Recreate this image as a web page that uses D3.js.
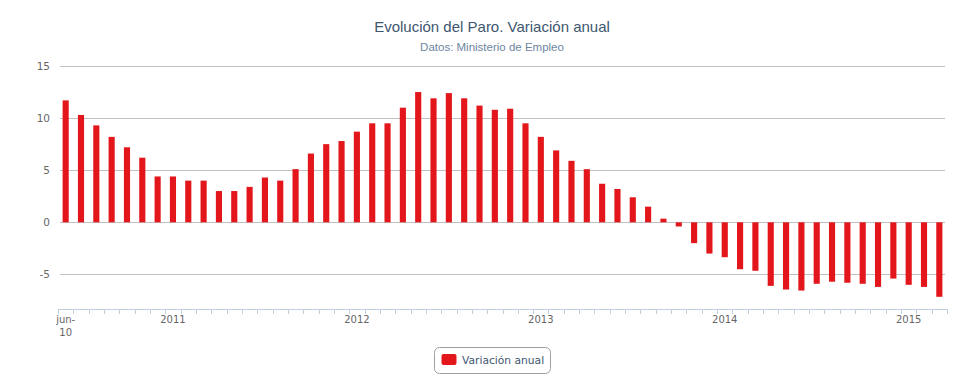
<!DOCTYPE html>
<html>
<head>
<meta charset="utf-8">
<script src="https://cdn.jsdelivr.net/npm/d3@7"></script>
<style>
  html, body { margin: 0; padding: 0; background: #fff; }
  svg { display: block; }
</style>
</head>
<body>
<svg id="chart" width="975" height="390"></svg>
<script>
const months = [
  "2010-06","2010-07","2010-08","2010-09","2010-10","2010-11","2010-12",
  "2011-01","2011-02","2011-03","2011-04","2011-05","2011-06","2011-07","2011-08","2011-09","2011-10","2011-11","2011-12",
  "2012-01","2012-02","2012-03","2012-04","2012-05","2012-06","2012-07","2012-08","2012-09","2012-10","2012-11","2012-12",
  "2013-01","2013-02","2013-03","2013-04","2013-05","2013-06","2013-07","2013-08","2013-09","2013-10","2013-11","2013-12",
  "2014-01","2014-02","2014-03","2014-04","2014-05","2014-06","2014-07","2014-08","2014-09","2014-10","2014-11","2014-12",
  "2015-01","2015-02","2015-03"
];
const variacion = [
  11.7, 10.3, 9.3, 8.2, 7.2, 6.2, 4.4,
  4.4, 4.0, 4.0, 3.0, 3.0, 3.4, 4.3, 4.0, 5.1, 6.6, 7.5, 7.8,
  8.7, 9.5, 9.5, 11.0, 12.5, 11.9, 12.4, 11.9, 11.2, 10.8, 10.9, 9.5,
  8.2, 6.9, 5.9, 5.1, 3.7, 3.2, 2.4, 1.5, 0.35, -0.4, -2.0,
  -3.0, -3.35, -4.5, -4.65, -6.1, -6.45, -6.55, -5.9, -5.7, -5.8,
  -5.9, -6.2, -5.4, -6.0, -6.2, -7.15
];
const yTicks = [-5, 0, 5, 10, 15];
const xTickLabels = [
  { month: "2010-06", label: ["jun-", "10"] },
  { month: "2011-01", label: ["2011"] },
  { month: "2012-01", label: ["2012"] },
  { month: "2013-01", label: ["2013"] },
  { month: "2014-01", label: ["2014"] },
  { month: "2015-01", label: ["2015"] }
];
const chartTitle = "Evolución del Paro. Variación anual";
const chartSubtitle = "Datos: Ministerio de Empleo";
const seriesName = "Variación anual";

const svg = d3.select("#chart");
const font = "'DejaVu Sans', Verdana, sans-serif";
const barColor = "#e3171b";

const pLeft = 58, pRight = 947, pTop = 66, pBottom = 309;

const x = d3.scaleBand().domain(months).range([pLeft, pRight]).paddingInner(0.6).paddingOuter(0.3);
const y = d3.scaleLinear().domain([-8.32, 15]).range([pBottom, pTop]);

// title
svg.append("text").attr("x", 492).attr("y", 32).attr("text-anchor", "middle")
  .attr("font-family", "'Liberation Sans', Arial, sans-serif").attr("font-size", 15)
  .attr("fill", "#3e576f").text(chartTitle);
svg.append("text").attr("x", 492).attr("y", 51).attr("text-anchor", "middle")
  .attr("font-family", "'Liberation Sans', Arial, sans-serif").attr("font-size", 11.5)
  .attr("fill", "#6d869f").text(chartSubtitle);

// grid
svg.append("g").selectAll("line").data(yTicks).join("line")
  .attr("x1", pLeft + 2).attr("x2", pRight - 2)
  .attr("y1", d => Math.round(y(d)) + 0.5).attr("y2", d => Math.round(y(d)) + 0.5)
  .attr("stroke", "#c0c0c0").attr("stroke-width", 1);

// y axis labels
svg.append("g").selectAll("text").data(yTicks).join("text")
  .attr("x", 50).attr("y", d => y(d) + 4).attr("text-anchor", "end")
  .attr("font-family", font).attr("font-size", 10.5).attr("fill", "#666")
  .text(d => d);

// bars
svg.append("g").selectAll("rect").data(months).join("rect")
  .attr("x", d => x(d))
  .attr("width", x.bandwidth())
  .attr("y", (d, i) => y(Math.max(0, variacion[i])))
  .attr("height", (d, i) => Math.abs(y(variacion[i]) - y(0)))
  .attr("fill", barColor);

// x axis
const xAxisG = svg.append("g");
xAxisG.append("line").attr("x1", pLeft).attr("x2", pRight)
  .attr("y1", pBottom + 0.5).attr("y2", pBottom + 0.5)
  .attr("stroke", "#c0d0e0").attr("stroke-width", 1);
const step = x.step();
const boundaries = months.map(m => x(m) - (step - x.bandwidth()) / 2).concat([pRight]);
xAxisG.selectAll("line.tick").data(boundaries).join("line").attr("class", "tick")
  .attr("x1", d => Math.round(d) + 0.5).attr("x2", d => Math.round(d) + 0.5)
  .attr("y1", pBottom).attr("y2", pBottom + 5)
  .attr("stroke", "#c0d0e0").attr("stroke-width", 1);

const lbl = xAxisG.selectAll("text.lbl").data(xTickLabels).join("text").attr("class", "lbl")
  .attr("font-family", font).attr("font-size", 10).attr("fill", "#666")
  .attr("text-anchor", "middle");
lbl.each(function(d) {
  const cx = x(d.month) + x.bandwidth() / 2;
  d3.select(this).selectAll("tspan").data(d.label).join("tspan")
    .attr("x", cx).attr("y", (t, i) => 323 + i * 13).text(t => t);
});

// legend
const lg = svg.append("g");
lg.append("rect").attr("x", 434.5).attr("y", 347.5).attr("width", 116).attr("height", 26).attr("rx", 5)
  .attr("fill", "#fff").attr("stroke", "#a0a0a0").attr("stroke-width", 1);
lg.append("rect").attr("x", 441.5).attr("y", 354).attr("width", 15).attr("height", 11).attr("rx", 2)
  .attr("fill", barColor);
lg.append("text").attr("x", 462).attr("y", 364)
  .attr("font-family", font).attr("font-size", 10.7).attr("fill", "#3e576f").text(seriesName);
</script>
</body>
</html>
